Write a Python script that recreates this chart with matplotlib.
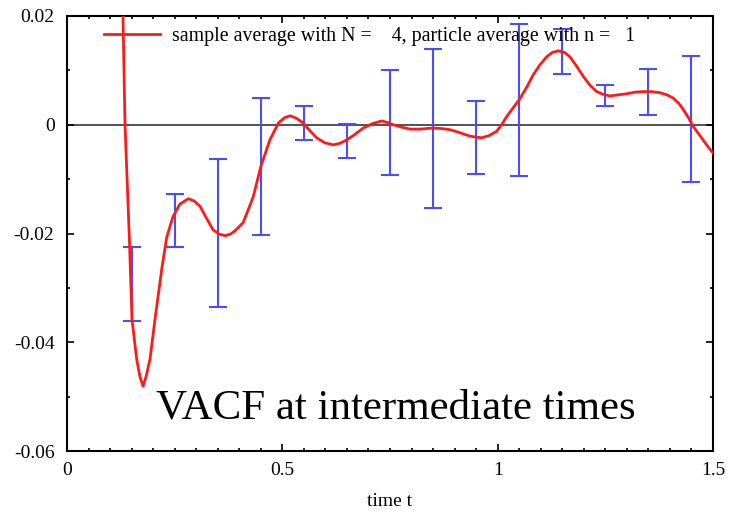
import numpy as np
import matplotlib
matplotlib.use('Agg')
import matplotlib.pyplot as plt
from matplotlib.ticker import MultipleLocator

plt.rcParams['font.family'] = ['Liberation Serif', 'DejaVu Serif']

# velocity autocorrelation, sample average
t_curve = [0.127, 0.130, 0.1347, 0.1447, 0.1509, 0.1618, 0.169, 0.1765, 0.184, 0.1927,
           0.2043, 0.2199, 0.2315, 0.2461, 0.262, 0.2816, 0.295, 0.309, 0.324, 0.339,
           0.353, 0.367, 0.380, 0.390, 0.409, 0.420, 0.4326, 0.450, 0.471, 0.4907,
           0.505, 0.5178, 0.533, 0.5487, 0.564, 0.5797, 0.598, 0.6184, 0.634, 0.6494,
           0.668, 0.688, 0.709, 0.7306, 0.745, 0.7576, 0.775, 0.7964, 0.82, 0.8505,
           0.87, 0.889, 0.91, 0.9357, 0.9628, 0.98, 0.9977, 1.01, 1.0209, 1.035,
           1.0518, 1.068, 1.0827, 1.098, 1.1137, 1.127, 1.1408, 1.155, 1.1679, 1.183,
           1.1988, 1.214, 1.2298, 1.245, 1.2608, 1.28, 1.2995, 1.32, 1.338, 1.357,
           1.3768, 1.393, 1.4077, 1.42, 1.431, 1.443, 1.454, 1.466, 1.477, 1.488, 1.500]
vacf = [0.030, 0.0198, 0.0, -0.0207, -0.0358, -0.0431, -0.0462, -0.0481, -0.0462, -0.0431,
        -0.0358, -0.0266, -0.0207, -0.0169, -0.0146, -0.0136, -0.0140, -0.0150, -0.0172, -0.0193,
        -0.0201, -0.0204, -0.0201, -0.0195, -0.0180, -0.0158, -0.0132, -0.0077, -0.0028, 0.0003,
        0.0013, 0.00165, 0.0012, 0.0003, -0.0011, -0.0024, -0.0033, -0.0037, -0.0034, -0.0028,
        -0.0018, -0.0006, 0.0002, 0.0007, 0.0004, 0.0, -0.0004, -0.0008, -0.0008, -0.0006,
        -0.0007, -0.0009, -0.0014, -0.0021, -0.0024, -0.0020, -0.0012, 0.0001, 0.0015, 0.0030,
        0.0048, 0.0070, 0.0092, 0.0110, 0.0125, 0.0133, 0.0136, 0.0133, 0.0125, 0.0108,
        0.0089, 0.0073, 0.0061, 0.0056, 0.0053, 0.0055, 0.0057, 0.0060, 0.0061, 0.0061,
        0.0059, 0.0055, 0.0049, 0.0040, 0.0028, 0.0013, -0.0003, -0.0016, -0.0028, -0.0040, -0.0052]

# error bars (upper / lower ends)
t_err = [0.15, 0.25, 0.35, 0.45, 0.55, 0.65, 0.75, 0.85, 0.95, 1.05, 1.15, 1.25, 1.35, 1.45]
err_top = [-0.0224, -0.0128, -0.0063, 0.0049, 0.0035, 0.0002, 0.0100, 0.0139,
           0.0044, 0.0185, 0.0176, 0.0073, 0.0102, 0.0127]
err_bot = [-0.0361, -0.0224, -0.0335, -0.0202, -0.0028, -0.0061, -0.0093, -0.0153,
           -0.0091, -0.0095, 0.0094, 0.0034, 0.0018, -0.0105]

fig = plt.figure(figsize=(7.36, 5.12), dpi=100)
ax = fig.add_axes([67/736, 1 - 451/512, 646/736, 435/512])

ax.axhline(0, color='#333333', lw=1.2, zorder=1)

top = np.array(err_top)
bot = np.array(err_bot)
ax.errorbar(t_err, (top + bot) / 2, yerr=(top - bot) / 2, fmt='none',
            ecolor='#4b4bff', elinewidth=1.5, capsize=6.5, capthick=1.5, zorder=2)

ax.plot(t_curve, vacf, color='#ff1a1a', lw=2, solid_joinstyle='round',
        label='sample average with N =    4, particle average with n =   1', zorder=3)

ax.set_xlim(0, 1.5)
ax.set_ylim(-0.06, 0.02)
ax.set_xticks([0, 0.5, 1, 1.5])
ax.set_xticklabels(['0', '0.5', '1', '1.5'])
ax.xaxis.set_minor_locator(MultipleLocator(0.05))
ax.set_yticks([-0.06, -0.04, -0.02, 0, 0.02])
ax.set_yticklabels(['-0.06', '-0.04', '-0.02', '0', '0.02'])
ax.yaxis.set_minor_locator(MultipleLocator(0.01))
ax.tick_params(which='both', direction='in', top=True, right=True, labelsize=14)
ax.tick_params(which='major', length=5, width=1.2)
ax.tick_params(which='minor', length=2.5, width=1.2)
ax.tick_params(axis='y', pad=9)
ax.tick_params(axis='x', pad=8)
for s in ax.spines.values():
    s.set_linewidth(1.5)

ax.set_xlabel('time t', fontsize=14, labelpad=10)

ax.legend(loc='upper left', bbox_to_anchor=(0.058, 0.975), frameon=False,
          fontsize=14.3, handlelength=2.8, handletextpad=0.6,
          borderpad=0, borderaxespad=0)

ax.text(0.764, -0.0541, 'VACF at intermediate times', fontsize=31,
        ha='center', va='baseline')

fig.savefig('out.png', dpi=100)
